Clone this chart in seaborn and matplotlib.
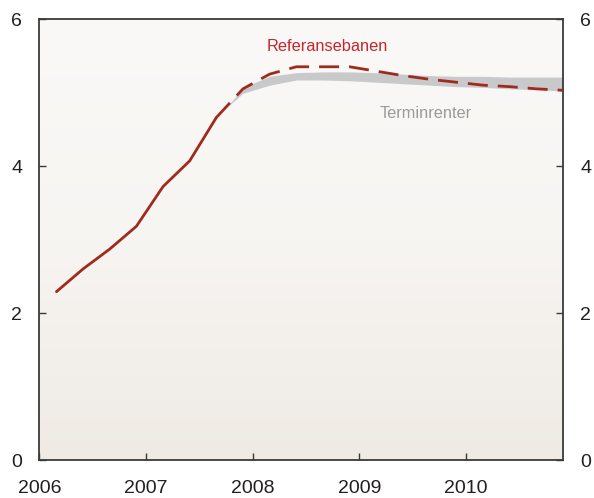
import numpy as np
import pandas as pd
import matplotlib
matplotlib.use("Agg")
import matplotlib.pyplot as plt
import seaborn as sns
from matplotlib.colors import LinearSegmentedColormap

# ---- data ----
hist_x = [2006.16, 2006.41, 2006.66, 2006.91, 2007.16, 2007.41, 2007.66]
hist_y = [2.29, 2.60, 2.87, 3.18, 3.72, 4.07, 4.66]

ref_x = [2007.66, 2007.91, 2008.16, 2008.41, 2008.66, 2008.91, 2009.16,
         2009.41, 2009.66, 2009.91, 2010.16, 2010.41, 2010.66, 2010.91]
ref_y = [4.66, 5.05, 5.25, 5.35, 5.35, 5.35, 5.29,
         5.23, 5.18, 5.14, 5.10, 5.08, 5.05, 5.03]

band_x = [2007.76, 2007.91, 2008.16, 2008.41, 2008.66, 2008.91, 2009.16,
          2009.41, 2009.66, 2009.91, 2010.16, 2010.41, 2010.66, 2010.91]
band_lo = [4.80, 4.99, 5.10, 5.17, 5.17, 5.16, 5.14,
           5.12, 5.10, 5.08, 5.07, 5.05, 5.04, 5.02]
band_hi = [4.80, 5.07, 5.22, 5.27, 5.28, 5.28, 5.27,
           5.25, 5.23, 5.22, 5.22, 5.21, 5.21, 5.21]

year_ticks = [2006, 2007, 2008, 2009, 2010]
year_labels = ["2006", "2007", "2008", "2009", "2010"]
y_ticks = [0, 2, 4, 6]

# ---- style ----
sns.set_theme(style="ticks")
plt.rcParams["font.family"] = ["Liberation Sans", "DejaVu Sans"]

line_col = "#9E2B1E"
text_red = "#C4262E"
band_col = "#C8C9CB"
spine_col = "#3A3A3A"

fig = plt.figure(figsize=(5.94, 4.98), dpi=100)
ax = fig.add_axes([39.4 / 594, 38 / 498, (563 - 39.4) / 594, (460 - 19) / 498])

# gradient background
cmap = LinearSegmentedColormap.from_list("bg", ["#EFEAE4", "#F7F5F2", "#FAF9F7"])
grad = np.linspace(0, 1, 256).reshape(-1, 1)
ax.imshow(grad, cmap=cmap, aspect="auto", extent=[0, 1, 0, 1],
          transform=ax.transAxes, origin="lower", zorder=0)

# band
ax.fill_between(band_x, band_lo, band_hi, color=band_col, linewidth=0, zorder=2)

df_hist = pd.DataFrame({"x": hist_x, "y": hist_y})
df_ref = pd.DataFrame({"x": ref_x, "y": ref_y})
sns.lineplot(data=df_hist, x="x", y="y", ax=ax, color=line_col, linewidth=2.0,
             zorder=3)
sns.lineplot(data=df_ref, x="x", y="y", ax=ax, color=line_col, linewidth=2.0,
             dashes=False, zorder=3)
ax.lines[-1].set_dashes((7.2, 3.6))

ax.set_xlim(2006.0, 2010.912)
ax.set_ylim(0, 6)
ax.set_xlabel("")
ax.set_ylabel("")

ax.set_xticks(year_ticks)
ax.set_xticklabels(year_labels)
ax.set_yticks(y_ticks)
ax.set_yticklabels([str(v) for v in y_ticks])

ax.tick_params(axis="x", direction="in", length=5, width=1, color=spine_col,
               labelsize=14, pad=14.5, labelcolor="#231F20")
ax.tick_params(axis="y", direction="in", length=5, width=1, color=spine_col,
               labelsize=14, pad=12.5, labelcolor="#231F20",
               left=True, right=True, labelleft=True, labelright=True)

for s in ax.spines.values():
    s.set_color(spine_col)
    s.set_linewidth(1.3)
    s.set_visible(True)

ax.text(2008.70, 5.63, "Referansebanen", color=text_red, fontsize=11.8,
        ha="center", va="center", zorder=4)
ax.text(2009.62, 4.71, "Terminrenter", color="#9A9A9A", fontsize=11.8,
        ha="center", va="center", zorder=4)

fig.savefig("out.png", dpi=100, facecolor="white")
